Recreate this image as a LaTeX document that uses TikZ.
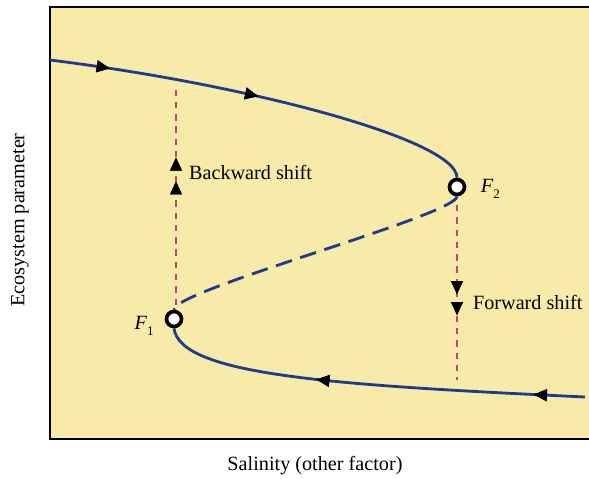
\documentclass[tikz,border=0pt]{standalone}
\usepackage{fontspec}
\setmainfont{Liberation Serif}
\usetikzlibrary{arrows.meta,decorations.markings}
\definecolor{panel}{HTML}{F8EAA9}
\definecolor{branch}{HTML}{1F3C8C}
\definecolor{shift}{HTML}{C8407A}
\tikzset{
    fold/.style={circle, draw=black, line width=2.1pt, fill=white, inner sep=0pt, minimum size=0.3cm},
    stable/.style={draw=branch, line width=1.6pt},
    unstable/.style={draw=branch, line width=1.6pt, dash pattern=on 9.5pt off 5pt},
    jump/.style={draw=shift, line width=1.3pt, dash pattern=on 3.6pt off 3.4pt},
    tips/.style={postaction={decorate}, decoration={markings,
        mark=at position #1 with {\arrow[black]{Triangle[length=7.5pt,width=6.5pt]}}}},
    lbl/.style={font=\fontsize{11.5}{13}\selectfont, inner sep=1pt}
}
\newcommand{\Fsub}[1]{\textit{F}\raisebox{-0.6ex}{\fontsize{7.5}{8}\selectfont #1}}
\begin{document}
\begin{tikzpicture}[x=0.02cm, y=-0.02cm]
    \useasboundingbox (0,0) rectangle (589,479);
    % panel
    \fill[panel] (50,7) rectangle (589,439);
    \draw[line width=1.7pt] (589,7) -- (50,7) -- (50,439) -- (589,439);
    % fold points
    \node[fold] (F2) at (457,187) {};
    \node[fold] (F1) at (174,319) {};
    \node[lbl, anchor=west] at ([xshift=7pt,yshift=-1pt]F2.east) {\Fsub{2}};
    \node[lbl, anchor=east] at ([xshift=-5pt,yshift=-4pt]F1.west) {\Fsub{1}};
    % end points of the branches
    \coordinate (upper end) at (50,60);
    \coordinate (lower end) at (585,397);
    % shift lines
    \coordinate (back bottom) at (176,305);
    \coordinate (back top) at (176,88);
    \coordinate (fwd top) at (457,205);
    \coordinate (fwd bottom) at (457,380);
    \draw[jump, tips/.list={0.57,0.68}] (back bottom) -- (back top);
    \draw[jump, tips/.list={0.51,0.63}] (fwd top) -- (fwd bottom);
    % branches
    \draw[stable, tips/.list={0.14,0.49}] (upper end) .. controls (250,85) and (457,140) .. (F2.north);
    \draw[unstable] (F2.south) .. controls (457,215) and (174,290) .. (F1.north);
    \draw[stable, tips/.list={0.12,0.63}] (lower end) .. controls (330,385) and (180,375) .. (F1.south);
    % labels
    \node[lbl, anchor=west] (backward) at (187,172) {Backward shift};
    \node[lbl, anchor=west] (forward) at (471,302) {Forward shift};
    \node[lbl, rotate=90] (ylabel) at (20,220) {Ecosystem parameter};
    \node[lbl] (xlabel) at (315,466) {Salinity (other factor)};
\end{tikzpicture}
\end{document}
